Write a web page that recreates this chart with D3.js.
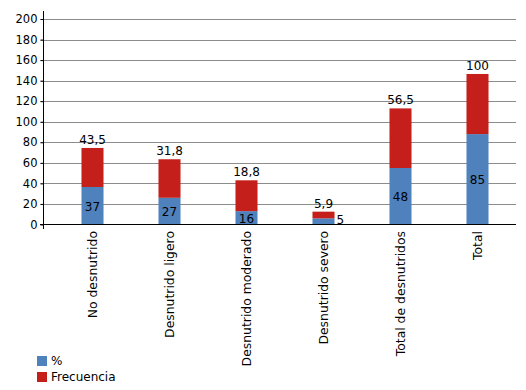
<!DOCTYPE html>
<html>
<head>
<meta charset="utf-8">
<script src="https://cdn.jsdelivr.net/npm/d3@7"></script>
<style>
  body { margin: 0; background: #fff; }
  svg text { font-family: "DejaVu Sans", Verdana, sans-serif; fill: #000; }
</style>
</head>
<body>
<div class="vis"></div>
<script>
// data
const categories = ["No desnutrido", "Desnutrido ligero", "Desnutrido moderado",
  "Desnutrido severo", "Total de desnutridos", "Total"];
const pctValues = [36.5, 26, 13, 6, 55, 88];        // blue "%" segment heights
const freqValues = [38, 37.5, 30, 6.5, 58, 58.5];   // red "Frecuencia" segment heights
const pctLabels = ["37", "27", "16", "5", "48", "85"];
const freqLabels = ["43,5", "31,8", "18,8", "5,9", "56,5", "100"];
const yTicks = [0, 20, 40, 60, 80, 100, 120, 140, 160, 180, 200];
const seriesNames = ["%", "Frecuencia"];
const colors = ["#4f81bd", "#c41f1a"];

const W = 526, H = 390;
const svg = d3.select(".vis").append("svg")
  .attr("width", W).attr("height", H);

const x = d3.scaleBand()
  .domain(categories)
  .range([54, 516])
  .paddingInner(0.714)
  .paddingOuter(0.357);

const y = d3.scaleLinear().domain([0, 200]).range([224.5, 19]);

// grid
svg.append("g")
  .selectAll("line")
  .data(yTicks.filter(d => d > 0))
  .enter().append("line")
  .attr("x1", 40.5).attr("x2", 516)
  .attr("y1", d => Math.round(y(d)) + 0.5)
  .attr("y2", d => Math.round(y(d)) + 0.5)
  .attr("stroke", "#8c8c8c")
  .attr("stroke-width", 1);

// y axis labels + ticks
const yAxis = svg.append("g")
  .attr("transform", "translate(43.5,0)")
  .call(d3.axisLeft(y).tickValues(yTicks).tickSize(3).tickPadding(3));
yAxis.select(".domain").remove();
yAxis.selectAll("line").attr("stroke", "#000");
yAxis.selectAll("text").style("font-size", "11.5px").attr("fill", "#000");

// stacked bars
const data = categories.map((c, i) => ({
  cat: c, pct: pctValues[i], freq: freqValues[i],
  pctLabel: pctLabels[i], freqLabel: freqLabels[i]
}));

const bars = svg.append("g");
bars.selectAll(".blue")
  .data(data).enter().append("rect")
  .attr("x", d => x(d.cat))
  .attr("width", x.bandwidth())
  .attr("y", d => y(d.pct))
  .attr("height", d => y(0) - y(d.pct))
  .attr("fill", colors[0]);

bars.selectAll(".red")
  .data(data).enter().append("rect")
  .attr("x", d => x(d.cat))
  .attr("width", x.bandwidth())
  .attr("y", d => y(d.pct + d.freq))
  .attr("height", d => y(d.pct) - y(d.pct + d.freq))
  .attr("fill", colors[1]);

// value labels
svg.append("g").selectAll("text")
  .data(data).enter().append("text")
  .attr("x", d => x(d.cat) + x.bandwidth() / 2)
  .attr("y", d => y(d.pct + d.freq) - 4)
  .attr("text-anchor", "middle")
  .style("font-size", "12px")
  .text(d => d.freqLabel);

svg.append("g").selectAll("text")
  .data(data).enter().append("text")
  .each(function (d) {
    const h = y(0) - y(d.pct);
    const t = d3.select(this)
      .attr("dominant-baseline", "central")
      .style("font-size", "12px")
      .text(d.pctLabel);
    if (h < 12) {
      t.attr("x", x(d.cat) + x.bandwidth() + 2)
        .attr("y", y(d.pct / 2) - 1)
        .attr("text-anchor", "start");
    } else {
      t.attr("x", x(d.cat) + x.bandwidth() / 2)
        .attr("y", y(d.pct / 2) + 1)
        .attr("text-anchor", "middle");
    }
  });

// axes lines
svg.append("line")
  .attr("x1", 43.5).attr("x2", 43.5).attr("y1", 11).attr("y2", 229)
  .attr("stroke", "#000");
svg.append("line")
  .attr("x1", 40).attr("x2", 516).attr("y1", 224.5).attr("y2", 224.5)
  .attr("stroke", "#000");

// category labels
svg.append("g").selectAll("text")
  .data(categories).enter().append("text")
  .attr("transform", d => "translate(" + (x(d) + x.bandwidth() / 2 + 4) + ",231) rotate(-90)")
  .attr("text-anchor", "end")
  .style("font-size", "12.4px")
  .text(d => d);

// legend
const legend = svg.append("g").attr("transform", "translate(37,356)");
seriesNames.forEach((s, i) => {
  legend.append("rect")
    .attr("x", 0).attr("y", i * 16)
    .attr("width", 10).attr("height", 10)
    .attr("fill", colors[i]);
  legend.append("text")
    .attr("x", 14).attr("y", i * 16 + 5)
    .attr("dominant-baseline", "central")
    .style("font-size", "12px")
    .text(s);
});
</script>
</body>
</html>
